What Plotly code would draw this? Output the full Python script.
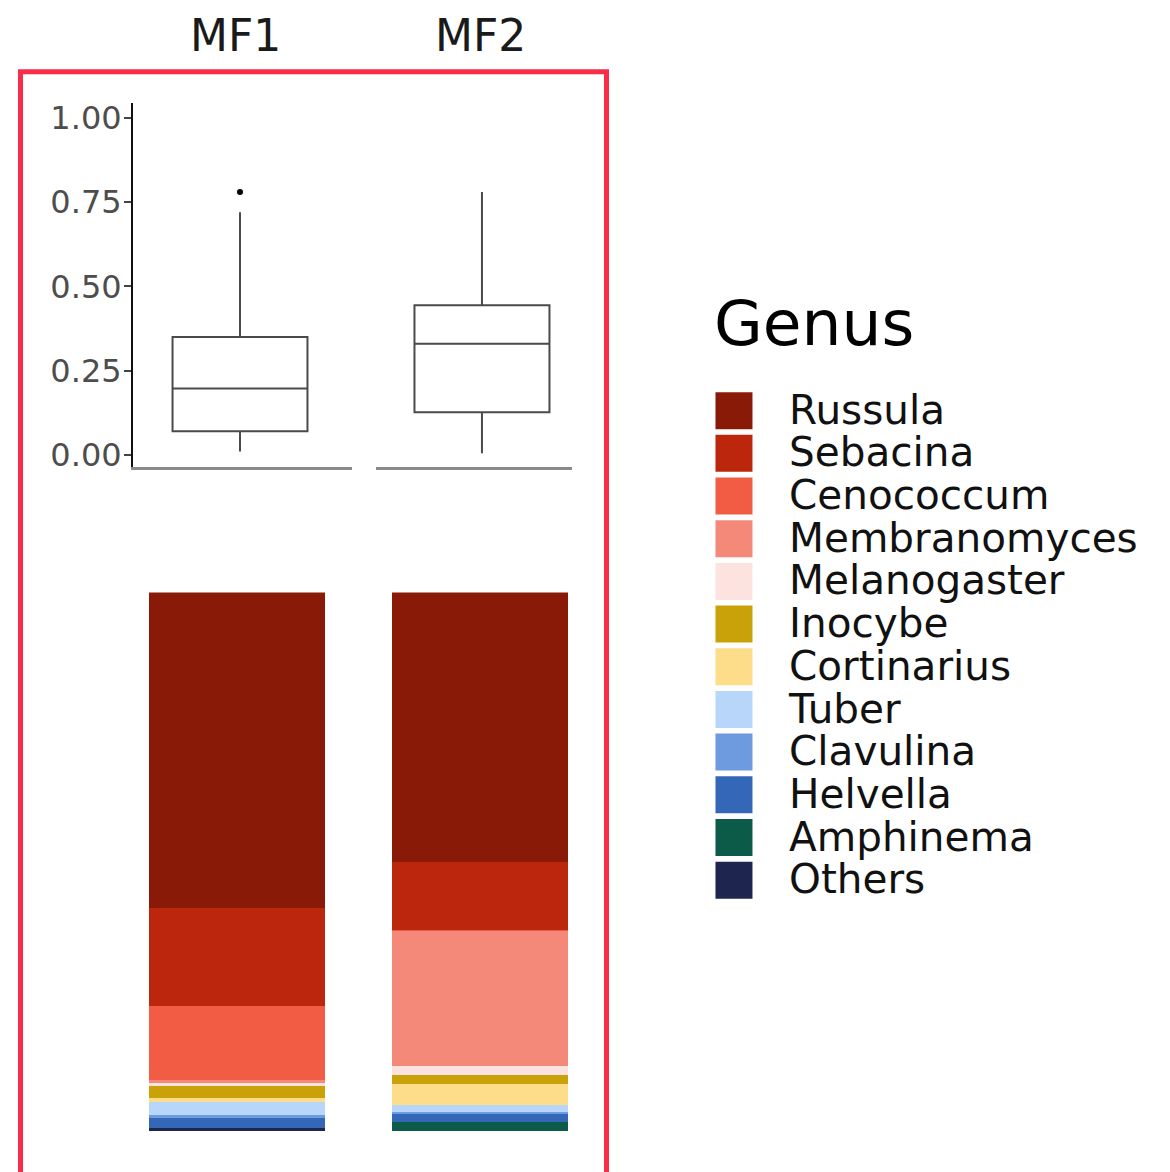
import plotly.graph_objects as go

W, H = 1170, 1172

# ---------------- data ----------------
groups = ["MF1", "MF2"]

# box statistics (relative abundance)
box_q1 = [0.070, 0.126]
box_median = [0.197, 0.330]
box_q3 = [0.350, 0.444]
box_lower = [0.010, 0.005]
box_upper = [0.720, 0.780]
outlier_group = ["MF1"]
outlier_value = [0.780]

genera = ["Russula", "Sebacina", "Cenococcum", "Membranomyces", "Melanogaster",
          "Inocybe", "Cortinarius", "Tuber", "Clavulina", "Helvella",
          "Amphinema", "Others"]
colors = ["#8A1A08", "#BC260D", "#F25C45", "#F4897A", "#FDE3E0",
          "#C9A20A", "#FDDC8A", "#B8D6FA", "#6E9AE0", "#3567B8",
          "#0B5B48", "#1E2650"]
mf1_values = [0.585, 0.183, 0.136, 0.006, 0.006, 0.022, 0.007, 0.024, 0.006, 0.018, 0.001, 0.006]
mf2_values = [0.500, 0.127, 0.002, 0.249, 0.018, 0.017, 0.039, 0.013, 0.003, 0.014, 0.018, 0.000]

ytick_vals = [0, 0.25, 0.5, 0.75, 1.0]
ytick_text = ["0.00", "0.25", "0.50", "0.75", "1.00"]

FONT = "DejaVu Sans"

def px_x(p):
    return p / W

def px_y(p):
    return 1 - p / H

fig = go.Figure()

# ---------------- box plots (two facet panels) ----------------
panel_axes = ["x", "x2"]
for i, g in enumerate(groups):
    fig.add_trace(go.Box(
        x=[0], q1=[box_q1[i]], median=[box_median[i]], q3=[box_q3[i]],
        lowerfence=[box_lower[i]], upperfence=[box_upper[i]],
        width=1.0, whiskerwidth=0, fillcolor="white",
        line=dict(color="#4a4a4a", width=2),
        boxpoints=False, showlegend=False, hoverinfo="skip",
        xaxis=panel_axes[i], yaxis="y",
    ))

for g, v in zip(outlier_group, outlier_value):
    fig.add_trace(go.Scatter(
        x=[0], y=[v], mode="markers",
        marker=dict(color="black", size=6),
        showlegend=False, hoverinfo="skip",
        xaxis=panel_axes[groups.index(g)], yaxis="y",
    ))

# ---------------- stacked bars ----------------
for k in reversed(range(len(genera))):
    fig.add_trace(go.Bar(
        x=groups, y=[mf1_values[k], mf2_values[k]],
        marker=dict(color=colors[k], line=dict(width=0)),
        width=0.724, name=genera[k], showlegend=False, hoverinfo="skip",
        xaxis="x3", yaxis="y3",
    ))

# ---------------- legend (drawn on its own axes) ----------------
idx = list(range(len(genera)))
fig.add_trace(go.Scatter(
    x=[0.0723] * len(genera), y=idx, mode="markers",
    marker=dict(symbol="square", size=37, color=colors, line=dict(width=0)),
    showlegend=False, hoverinfo="skip", xaxis="x4", yaxis="y4",
))
fig.add_trace(go.Scatter(
    x=[0.1895] * len(genera), y=idx, mode="text", text=genera,
    textposition="middle right",
    textfont=dict(family=FONT, size=40.5, color="#111111"),
    showlegend=False, hoverinfo="skip", xaxis="x5", yaxis="y5",
))

box_y_domain = [px_y(467), px_y(100)]

fig.update_layout(
    width=W, height=H,
    margin=dict(l=0, r=0, t=0, b=0),
    paper_bgcolor="white", plot_bgcolor="rgba(0,0,0,0)",
    barmode="stack",
    showlegend=False,
    xaxis=dict(domain=[px_x(133), px_x(352)], range=[-0.793, 0.830],
               showticklabels=False, ticks="", showgrid=False, zeroline=False,
               showline=True, linecolor="#8a8a8a", linewidth=3, anchor="y"),
    xaxis2=dict(domain=[px_x(376), px_x(572)], range=[-0.785, 0.667],
                showticklabels=False, ticks="", showgrid=False, zeroline=False,
                showline=True, linecolor="#8a8a8a", linewidth=3, anchor="y"),
    yaxis=dict(domain=box_y_domain, range=[-0.035, 1.044],
               tickvals=ytick_vals, ticktext=ytick_text,
               ticks="outside", ticklen=7, tickwidth=1.5, tickcolor="#444444",
               ticklabelstandoff=-4,
               tickfont=dict(family=FONT, size=32, color="#4D4D4D"),
               showgrid=False, zeroline=False,
               showline=True, linecolor="#111111", linewidth=2, anchor="x"),
    xaxis3=dict(domain=[px_x(115.5), px_x(601.5)], range=[-0.5, 1.5],
                type="category", categoryorder="array", categoryarray=groups,
                visible=False, anchor="y3"),
    yaxis3=dict(domain=[px_y(1138), px_y(594)], range=[0, 1],
                visible=False, anchor="x3"),
    xaxis4=dict(domain=[px_x(700), 1.0], range=[0, 1], visible=False, anchor="y4"),
    yaxis4=dict(domain=[px_y(906), px_y(389)], range=[11.5, -0.5],
                visible=False, anchor="x4"),
    xaxis5=dict(domain=[px_x(700), 1.0], range=[0, 1], visible=False, anchor="y5"),
    yaxis5=dict(domain=[px_y(909), px_y(392)], range=[11.5, -0.5],
                visible=False, anchor="x5"),
    annotations=[
        dict(text="MF1", x=px_x(235), y=px_y(32), xref="paper", yref="paper",
             xanchor="center", yanchor="middle", showarrow=False,
             font=dict(family=FONT, size=44, color="#1a1a1a")),
        dict(text="MF2", x=px_x(480), y=px_y(32), xref="paper", yref="paper",
             xanchor="center", yanchor="middle", showarrow=False,
             font=dict(family=FONT, size=44, color="#1a1a1a")),
        dict(text="Genus", x=px_x(712), y=px_y(323), xref="paper", yref="paper",
             xanchor="left", yanchor="middle", showarrow=False,
             font=dict(family=FONT, size=63, color="#000000")),
    ],
    shapes=[
        dict(type="rect", xref="paper", yref="paper",
             x0=px_x(20.5), x1=px_x(606.5), y0=px_y(1185), y1=px_y(68.5),
             line=dict(color="#FA2D48", width=5), fillcolor="rgba(0,0,0,0)",
             layer="above"),
    ],
)

fig.write_html("out.html")
